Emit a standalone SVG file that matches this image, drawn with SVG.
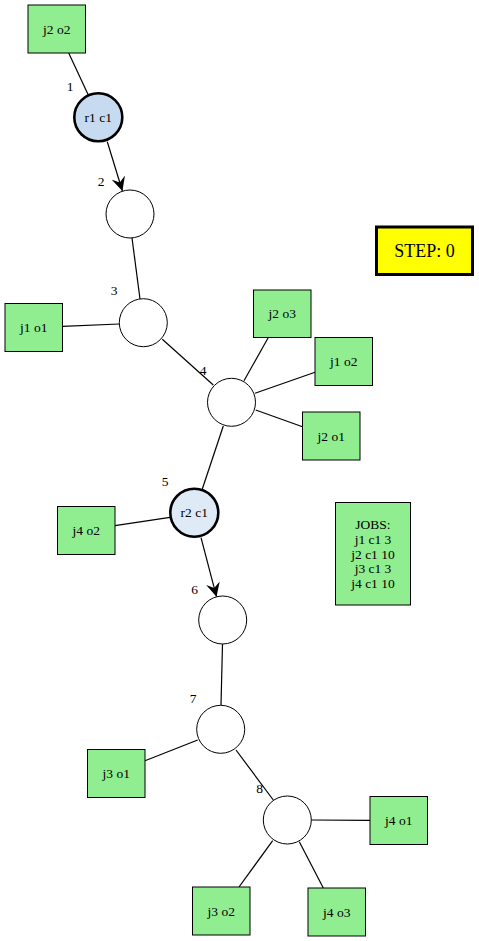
<svg xmlns="http://www.w3.org/2000/svg" width="479" height="941" viewBox="0 0 479 941">
<style>
text{font-family:"Liberation Serif","Times New Roman",serif;font-size:13.5px;fill:#000;text-anchor:middle}
.box{fill:#90ee90;stroke:#000;stroke-width:1}
.c{fill:#fff;stroke:#000;stroke-width:1}
.res{stroke:#000;stroke-width:2.6}
.e{stroke:#000;stroke-width:1.2;fill:none}
</style>
<defs>
<marker id="vee" viewBox="0 0 14 14" refX="14" refY="7" markerWidth="14" markerHeight="14" markerUnits="userSpaceOnUse" orient="auto">
<path d="M14,7 L0,0 L5,7 L0,14 Z" fill="#000"/>
</marker>
</defs>
<rect width="479" height="941" fill="#fff"/>
<g id="connectors">
<line class="e" x1="68.7" y1="53" x2="88.3" y2="95"/>
<line class="e" x1="107.3" y1="141.7" x2="122.4" y2="191" marker-end="url(#vee)"/>
<line class="e" x1="132" y1="238" x2="140" y2="299"/>
<line class="e" x1="62.5" y1="326.3" x2="119.3" y2="324"/>
<line class="e" x1="162.3" y1="339.3" x2="213.3" y2="385"/>
<line class="e" x1="268.3" y1="337.5" x2="244" y2="380.7"/>
<line class="e" x1="315" y1="372.3" x2="255" y2="393.3"/>
<line class="e" x1="255.7" y1="410" x2="302.5" y2="426.7"/>
<line class="e" x1="223.3" y1="426" x2="202.3" y2="489"/>
<line class="e" x1="115" y1="525.7" x2="170" y2="517.3"/>
<line class="e" x1="201" y1="537.7" x2="216.5" y2="596.7" marker-end="url(#vee)"/>
<line class="e" x1="222.5" y1="644" x2="221" y2="705"/>
<line class="e" x1="145" y1="760.7" x2="197.7" y2="740"/>
<line class="e" x1="236" y1="750" x2="273.3" y2="800"/>
<line class="e" x1="311.5" y1="820" x2="370" y2="820.3"/>
<line class="e" x1="239" y1="887" x2="272.7" y2="840.7"/>
<line class="e" x1="323.3" y1="888" x2="299.3" y2="841.7"/>
</g>
<g id="edge-labels">
<text x="70" y="90.5">1</text>
<text x="101" y="186">2</text>
<text x="114" y="295">3</text>
<text x="203" y="374.5">4</text>
<text x="165" y="486">5</text>
<text x="194.5" y="594">6</text>
<text x="193" y="703">7</text>
<text x="259.5" y="793">8</text>
</g>
<g id="j2o2"><rect class="box" x="28" y="5" width="57.5" height="48"/><text x="56.75" y="33.5">j2 o2</text></g>
<g id="r1c1"><circle class="res" cx="98.3" cy="117.3" r="24" fill="#c6dbef"/><text x="98.3" y="121.8">r1 c1</text></g>
<g id="n2"><circle class="c" cx="130" cy="214" r="24"/></g>
<g id="n3"><circle class="c" cx="143.3" cy="322.7" r="24"/></g>
<g id="j1o1"><rect class="box" x="5" y="303.5" width="57.5" height="48"/><text x="33.75" y="332">j1 o1</text></g>
<g id="n4"><circle class="c" cx="231.5" cy="402.3" r="24"/></g>
<g id="j2o3"><rect class="box" x="253.5" y="290" width="57.5" height="47.5"/><text x="282.25" y="318.2">j2 o3</text></g>
<g id="j1o2"><rect class="box" x="315" y="337.5" width="57.5" height="48"/><text x="343.75" y="366">j1 o2</text></g>
<g id="j2o1"><rect class="box" x="302.5" y="412" width="57.5" height="48"/><text x="331.25" y="440.5">j2 o1</text></g>
<g id="step"><rect x="376.5" y="227" width="96" height="47.5" fill="#ffff00" stroke="#000" stroke-width="3"/><text x="424.5" y="256.5" style="font-size:18px">STEP: 0</text></g>
<g id="r2c1"><circle class="res" cx="194.3" cy="512.7" r="24" fill="#deebf7"/><text x="194.3" y="517.2">r2 c1</text></g>
<g id="j4o2"><rect class="box" x="57.5" y="506.5" width="57.5" height="48"/><text x="86.25" y="535">j4 o2</text></g>
<g id="jobs"><rect class="box" x="335.5" y="502.5" width="75" height="102.5"/>
<text x="373" y="529">JOBS:</text>
<text x="373" y="544">j1 c1 3</text>
<text x="373" y="558.5">j2 c1 10</text>
<text x="373" y="573">j3 c1 3</text>
<text x="373" y="588">j4 c1 10</text>
</g>
<g id="n6"><circle class="c" cx="222.7" cy="620" r="24"/></g>
<g id="n7"><circle class="c" cx="220.7" cy="729.3" r="24"/></g>
<g id="j3o1"><rect class="box" x="87.5" y="749.5" width="57.5" height="48"/><text x="116.25" y="778">j3 o1</text></g>
<g id="n8"><circle class="c" cx="287.3" cy="820" r="24"/></g>
<g id="j4o1"><rect class="box" x="370" y="796.5" width="57.5" height="48"/><text x="398.75" y="825">j4 o1</text></g>
<g id="j3o2"><rect class="box" x="192.5" y="887" width="57.5" height="48"/><text x="221.25" y="915.5">j3 o2</text></g>
<g id="j4o3"><rect class="box" x="308" y="888" width="57.5" height="48"/><text x="336.75" y="916.5">j4 o3</text></g>
</svg>
